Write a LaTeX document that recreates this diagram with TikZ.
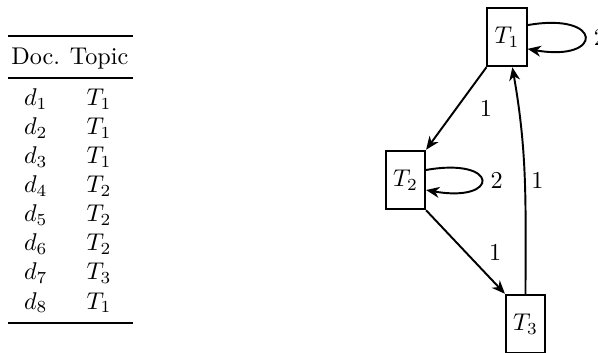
\documentclass[tikz,border=0pt]{standalone}
\usepackage{booktabs}
\usetikzlibrary{arrows.meta}
\begin{document}
\begin{tikzpicture}[x=0.41322pt,y=-0.41322pt,
  topic/.style={draw, thick, rectangle, minimum width=16.2pt, minimum height=24.2pt, inner sep=1pt},
  edge/.style={thick, -{Stealth[length=5.5pt,width=4.5pt,inset=1.7pt]}},
  wlabel/.style={inner sep=3.33pt}]
\useasboundingbox (0,0) rectangle (598,352);
\node[anchor=north west, inner sep=0pt] (tab) at (8,35) {%
\begin{tabular}{@{\hspace{1.2pt}}c@{\hspace{4pt}}c@{\hspace{2pt}}}
\toprule
Doc. & Topic\\
\midrule
$d_1$ & $T_1$\\
$d_2$ & $T_1$\\
$d_3$ & $T_1$\\
$d_4$ & $T_2$\\
$d_5$ & $T_2$\\
$d_6$ & $T_2$\\
$d_7$ & $T_3$\\
$d_8$ & $T_1$\\
\bottomrule
\end{tabular}};
\node[topic] (T1) at (507,37) {$T_1$};
\node[topic] (T2) at (405.5,180) {$T_2$};
\node[topic] (T3) at (525.5,324) {$T_3$};
\draw[edge] (T1.south west) -- node[wlabel, midway, right=6pt] (l12) {1} (T2.north east);
\draw[edge] (T2.south east) -- node[wlabel, midway, right=6pt] (l23) {1} (T3.north west);
\draw[edge] (T3.north) to[out=90, in=-80] node[wlabel, midway, right=-1pt] (l31) {1} (T1.-80);
\draw[edge] (T1.30) .. controls +(10:32pt) and +(-10:32pt) .. node[wlabel, right] (l11) {2} (T1.-30);
\draw[edge] (T2.26) .. controls +(10:31pt) and +(-10:31pt) .. node[wlabel, right] (l22) {2} (T2.-26);
\end{tikzpicture}
\end{document}
